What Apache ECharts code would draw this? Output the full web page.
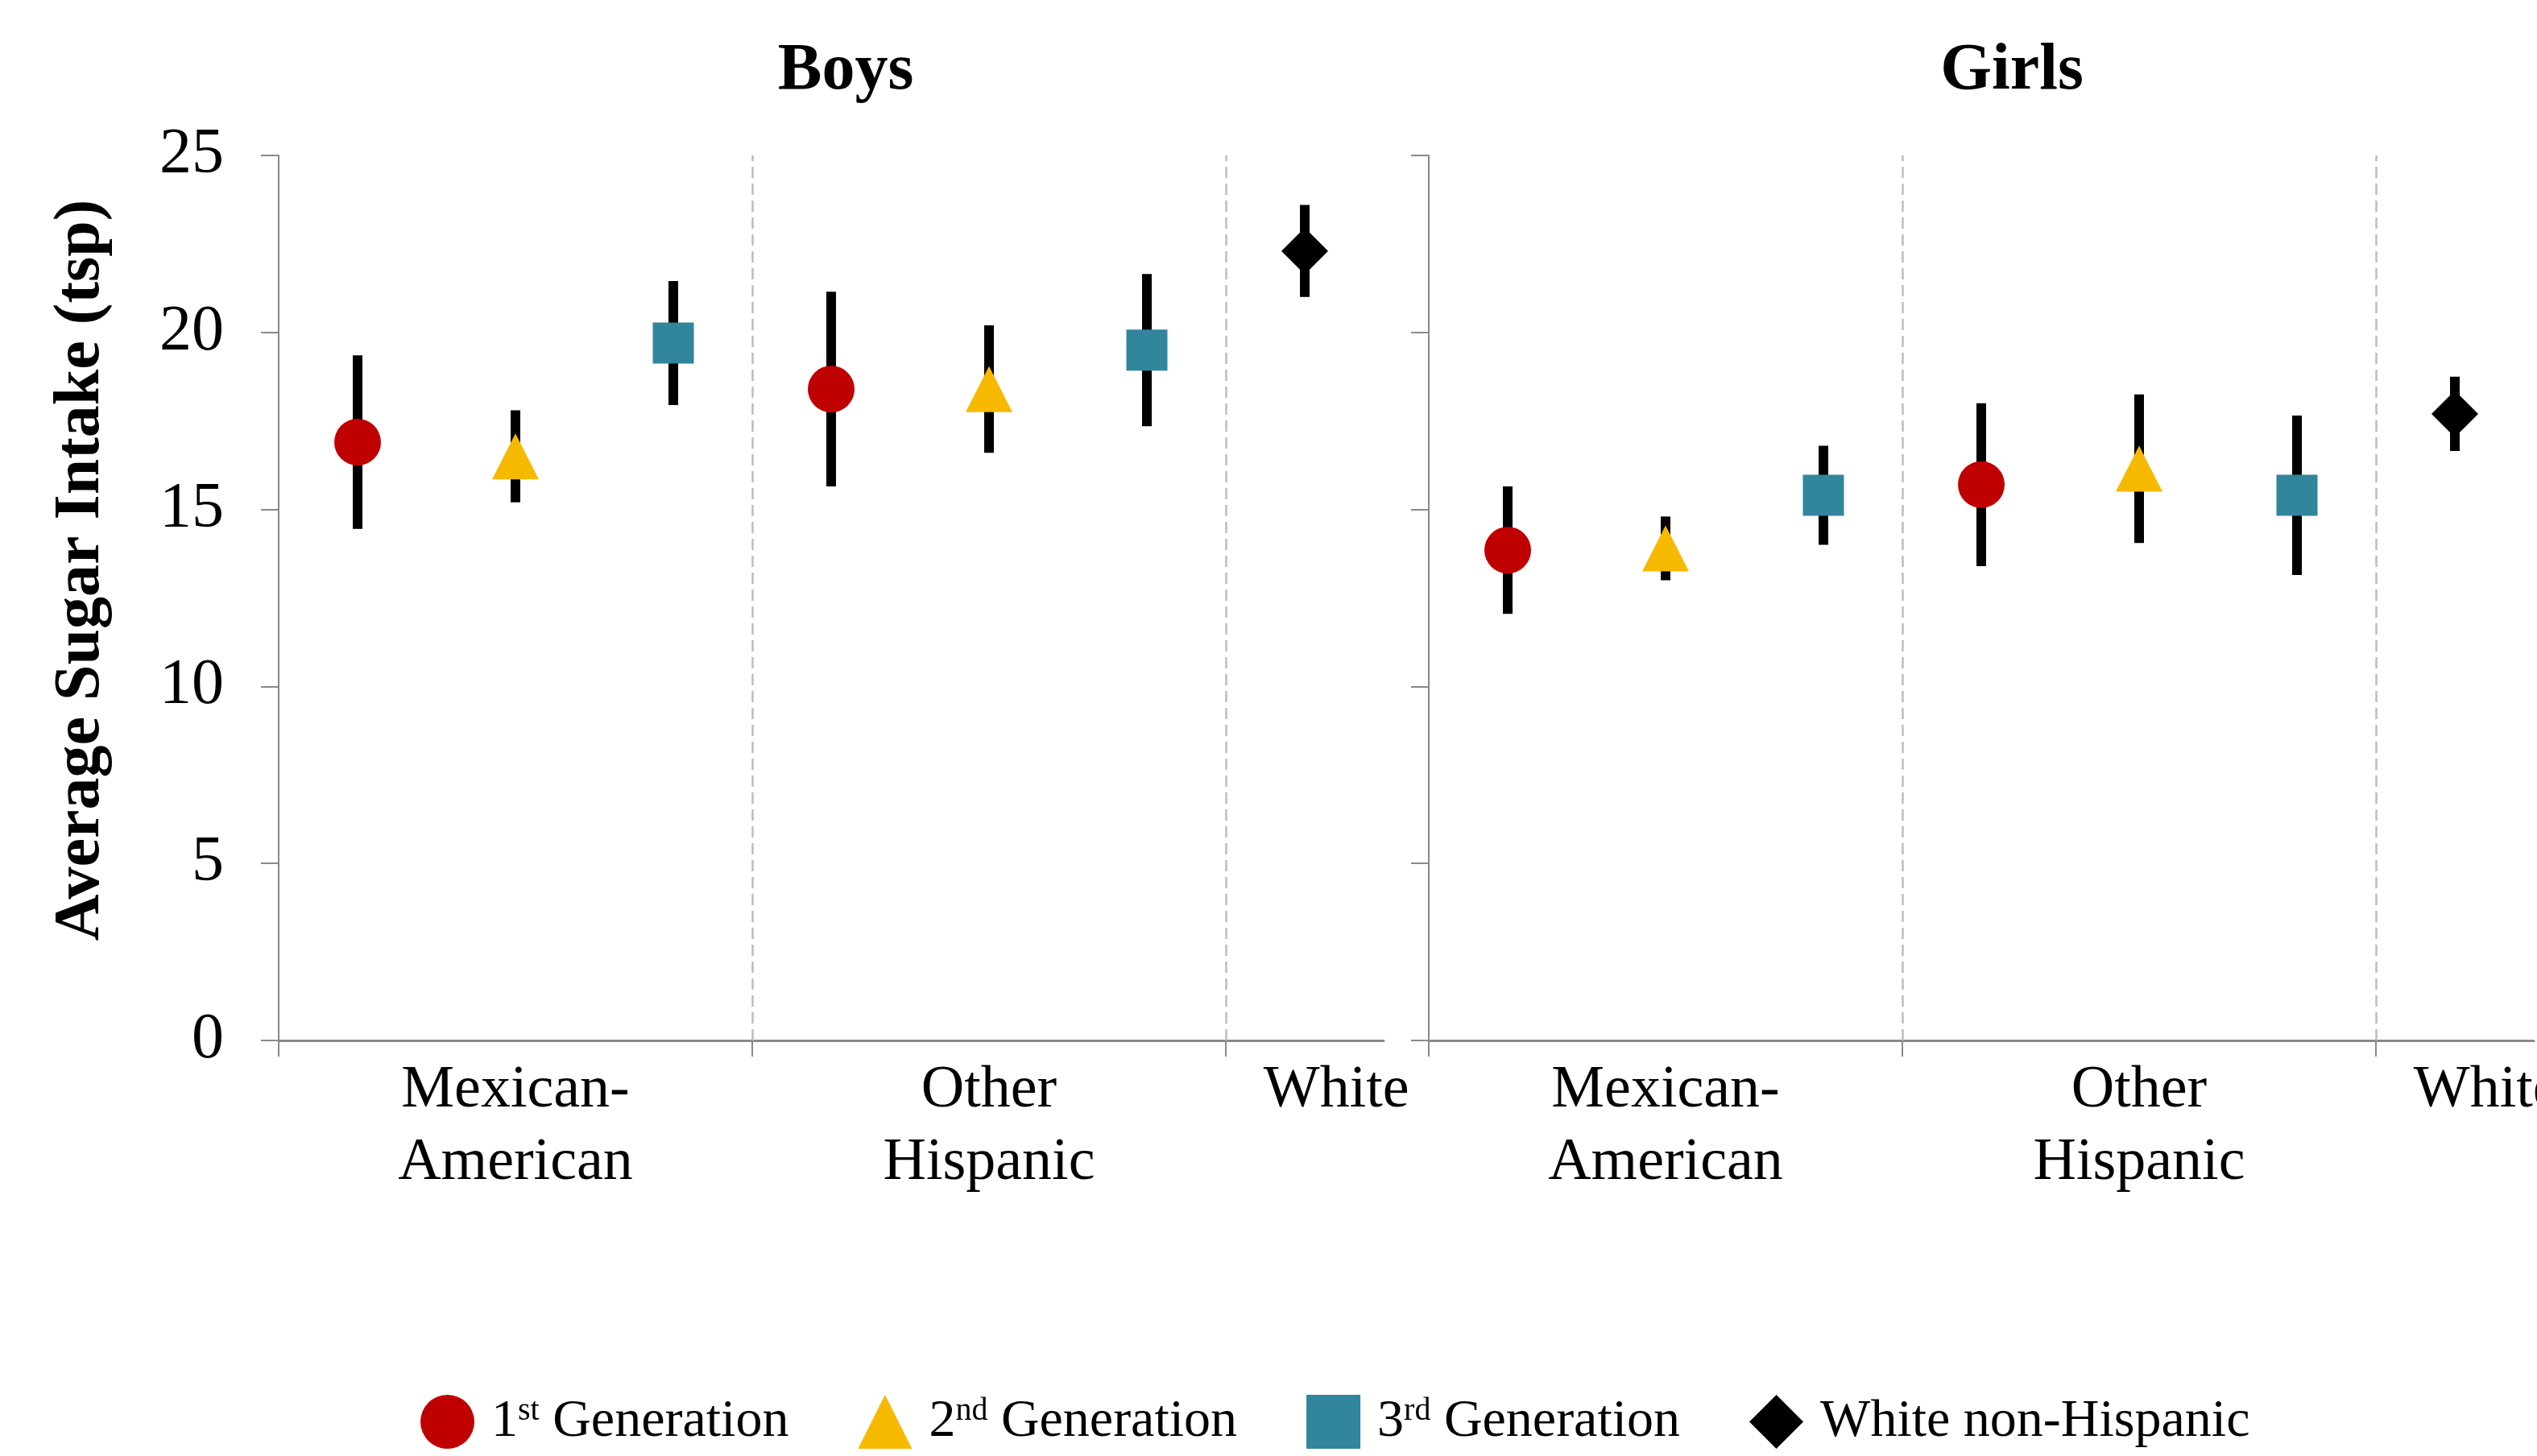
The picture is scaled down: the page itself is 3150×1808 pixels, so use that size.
<!DOCTYPE html>
<html>
<head>
<meta charset="utf-8">
<script src="https://cdn.jsdelivr.net/npm/echarts@6/dist/echarts.min.js"></script>
<style>
  html, body { margin: 0; padding: 0; background: #fff; }
  #chart { width: 3150px; height: 1808px; }
</style>
</head>
<body>
<div id="chart"></div>
<script>
// Ethnic groups along each panel's x axis
const groups = ['Mexican-\nAmerican', 'Other\nHispanic', 'White'];
const generations = ['1st Generation', '2nd Generation', '3rd Generation', 'White non-Hispanic'];
const panels = ['Boys', 'Girls'];
const yTicks = [0, 5, 10, 15, 20, 25];

// Mean sugar intake (tsp) and half-width of the interval,
// ordered [Mexican-American, Other Hispanic]
const boysGen1 = [16.9, 18.4];
const boysGen1Ci = [2.45, 2.75];
const boysGen2 = [16.5, 18.4];
const boysGen2Ci = [1.3, 1.8];
const boysGen3 = [19.7, 19.5];
const boysGen3Ci = [1.75, 2.15];
const boysWhite = [22.3];
const boysWhiteCi = [1.3];

const girlsGen1 = [13.85, 15.7];
const girlsGen1Ci = [1.8, 2.3];
const girlsGen2 = [13.9, 16.15];
const girlsGen2Ci = [0.9, 2.1];
const girlsGen3 = [15.4, 15.4];
const girlsGen3Ci = [1.4, 2.25];
const girlsWhite = [17.7];
const girlsWhiteCi = [1.05];

const FONT = "'Liberation Serif', 'Times New Roman', serif";
const AXIS_GREY = '#898989';
const colors = ['#C00000', '#F6B900', '#31859C', '#000000'];
const symbols = ['circle', 'triangle', 'rect', 'diamond'];
const symbolSizes = [58, [58, 57], 51, 58];

// Each group spans 6 x-units; generation k sits at slot 1 + 2k inside it
const SLOT = 6;
const slotX = (g, k) => g * SLOT + 1 + 2 * k;

const panelData = [
  { means: [boysGen1, boysGen2, boysGen3], cis: [boysGen1Ci, boysGen2Ci, boysGen3Ci], white: boysWhite, whiteCi: boysWhiteCi },
  { means: [girlsGen1, girlsGen2, girlsGen3], cis: [girlsGen1Ci, girlsGen2Ci, girlsGen3Ci], white: girlsWhite, whiteCi: girlsWhiteCi }
];

const labelCenters = [3, 9, 13.4];

const grids = [
  { left: 346, top: 193, width: 1372, height: 1099, outerBoundsMode: 'none', containLabel: false },
  { left: 1774, top: 193, width: 1372, height: 1099, outerBoundsMode: 'none', containLabel: false }
];

const xAxes = grids.map((g, i) => ({
  type: 'value', gridIndex: i, min: 0, max: 14, interval: SLOT,
  axisLine: { show: true, lineStyle: { color: AXIS_GREY, width: 3 } },
  axisTick: { show: true, length: 20, customValues: [0, 6, 12], lineStyle: { color: AXIS_GREY, width: 2 } },
  splitLine: { show: false },
  axisLabel: {
    show: true, customValues: labelCenters, margin: 18,
    fontFamily: FONT, fontSize: 74, lineHeight: 90, color: '#000',
    formatter: v => {
      const idx = labelCenters.findIndex(c => Math.abs(c - v) < 1e-6);
      return idx >= 0 ? groups[idx] : '';
    }
  }
}));

const yAxes = grids.map((g, i) => ({
  type: 'value', gridIndex: i, min: 0, max: 25, interval: 5,
  axisLine: { show: true, lineStyle: { color: AXIS_GREY, width: 2 } },
  axisTick: { show: true, length: 22, lineStyle: { color: AXIS_GREY, width: 2 } },
  splitLine: { show: false },
  axisLabel: {
    show: i === 0, margin: 68, fontFamily: FONT, fontSize: 80, color: '#000',
    formatter: v => String(yTicks.find(t => t === v) ?? v)
  },
  name: i === 0 ? 'Average Sugar Intake (tsp)' : '',
  nameLocation: 'middle', nameGap: 205, nameRotate: 90,
  nameTextStyle: { fontFamily: FONT, fontSize: 80, fontWeight: 'bold', color: '#000', padding: [0, 0, 0, 69] }
}));

const series = [];
panelData.forEach((pd, p) => {
  // interval bars, drawn beneath the markers
  const bars = [];
  pd.means.forEach((arr, k) => arr.forEach((m, g) => {
    bars.push([slotX(g, k), m - pd.cis[k][g], m + pd.cis[k][g]]);
  }));
  pd.white.forEach((m, j) => bars.push([slotX(2, 0), m - pd.whiteCi[j], m + pd.whiteCi[j]]));

  series.push({
    type: 'custom', name: 'interval-' + panels[p],
    xAxisIndex: p, yAxisIndex: p, z: 2, silent: true,
    encode: { x: 0, y: [1, 2] },
    data: bars,
    renderItem: (params, api) => {
      const lo = api.coord([api.value(0), api.value(1)]);
      const hi = api.coord([api.value(0), api.value(2)]);
      return {
        type: 'line',
        shape: { x1: lo[0], y1: lo[1], x2: hi[0], y2: hi[1] },
        style: { stroke: '#000', lineWidth: 12, lineCap: 'butt' }
      };
    },
    markLine: {
      silent: true, symbol: 'none', label: { show: false },
      lineStyle: { color: '#BDBDBD', type: [14, 7], width: 2.5 },
      data: [{ xAxis: 6 }, { xAxis: 12 }]
    }
  });

  pd.means.forEach((arr, k) => {
    series.push({
      type: 'scatter', name: generations[k], xAxisIndex: p, yAxisIndex: p, z: 3,
      symbol: symbols[k], symbolSize: symbolSizes[k],
      itemStyle: { color: colors[k], opacity: 1 },
      data: arr.map((m, g) => [slotX(g, k), m])
    });
  });
  series.push({
    type: 'scatter', name: generations[3], xAxisIndex: p, yAxisIndex: p, z: 3,
    symbol: symbols[3], symbolSize: symbolSizes[3],
    itemStyle: { color: colors[3], opacity: 1 },
    data: pd.white.map(m => [slotX(2, 0), m])
  });
});

const chart = echarts.init(document.getElementById('chart'), null, { renderer: 'canvas' });
chart.setOption({
  backgroundColor: '#fff',
  animation: false,
  title: panels.map((t, i) => ({
    text: t, left: [1045, 2493][i], top: 43, textAlign: 'center',
    textStyle: { fontFamily: FONT, fontWeight: 'bold', fontSize: 82, color: '#000' }
  })),
  legend: {
    left: 517, top: 1727, orient: 'horizontal',
    itemWidth: 67, itemHeight: 67, itemGap: 86,
    data: generations.map((n, i) => ({ name: n, icon: symbols[i], itemStyle: { color: colors[i] } })),
    formatter: n => '{gap| }' + n.replace(/^(\d)(st|nd|rd)/, '$1{sup|$2}'),
    textStyle: {
      fontFamily: FONT, fontSize: 66, color: '#000',
      rich: {
        gap: { width: 16, fontSize: 66, fontFamily: FONT },
        sup: { fontSize: 40, fontFamily: FONT, color: '#000', verticalAlign: 'top' }
      }
    }
  },
  grid: grids,
  xAxis: xAxes,
  yAxis: yAxes,
  series
});
</script>
</body>
</html>
